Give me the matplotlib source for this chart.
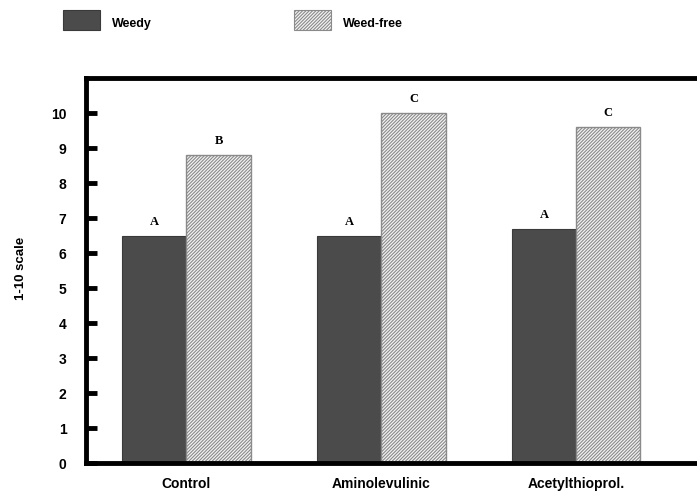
import matplotlib.pyplot as plt
import numpy as np
from matplotlib.patches import Rectangle

categories = ['Control', 'Aminolevulinic', 'Acetylthioprol.']
series = ['Weedy', 'Weed-free']
weedy = [6.5, 6.5, 6.7]
weed_free = [8.8, 10.0, 9.6]
weedy_letters = ['A', 'A', 'A']
free_letters = ['B', 'C', 'C']

plt.rcParams['hatch.color'] = '#a8a8a8'
plt.rcParams['hatch.linewidth'] = 0.8

fig = plt.figure(figsize=(6.97, 4.96), dpi=100)
ax = fig.add_axes([0.1234, 0.0665, 0.885, 0.776])

x = np.arange(len(categories))
w = 0.33
dark = '#4b4b4b'
light = '#f3f3f3'
ax.bar(x - w / 2, weedy, w, color=dark, edgecolor='#3a3a3a', linewidth=0.8)
ax.bar(x + w / 2, weed_free, w, color=light, edgecolor='#8a8a8a',
       linewidth=1.0, hatch='//////////')

for i in range(len(categories)):
    ax.text(x[i] - w / 2, weedy[i] + 0.4, weedy_letters[i], ha='center', va='center',
            family='Liberation Serif', fontweight='bold', fontsize=9)
    ax.text(x[i] + w / 2, weed_free[i] + 0.4, free_letters[i], ha='center', va='center',
            family='Liberation Serif', fontweight='bold', fontsize=9)

ax.set_xlim(-0.515, 2.65)
ax.set_ylim(0, 11)
ax.set_yticks(range(0, 11))
ax.set_xticks(x)
ax.set_xticklabels(categories)
ax.tick_params(axis='x', length=0, pad=10)
ax.tick_params(axis='y', direction='in', length=8, width=3.5, pad=14)
for lab in ax.get_xticklabels() + ax.get_yticklabels():
    lab.set_family('Liberation Sans')
    lab.set_fontweight('bold')
    lab.set_fontsize(10)

for s in ['left', 'bottom', 'top']:
    ax.spines[s].set_linewidth(3.5)
ax.spines['right'].set_visible(False)

fig.text(0.03, 0.458, '1-10 scale', rotation=90, ha='center', va='center',
         family='Liberation Sans', fontweight='bold', fontsize=9.5)

# legend drawn by hand at the top of the figure
legend_x = [0.0904, 0.4218]
styles = [dict(facecolor=dark, edgecolor='#3a3a3a'),
          dict(facecolor=light, edgecolor='#8a8a8a', hatch='//////////')]
for lx, name, st in zip(legend_x, series, styles):
    fig.add_artist(Rectangle((lx, 0.9395), 0.0531, 0.0403, transform=fig.transFigure,
                             linewidth=0.8, **st))
    fig.text(lx + 0.0531 + 0.017, 0.952, name, ha='left', va='center',
             family='Liberation Sans', fontweight='bold', fontsize=9)

fig.savefig('out.png', dpi=100)
